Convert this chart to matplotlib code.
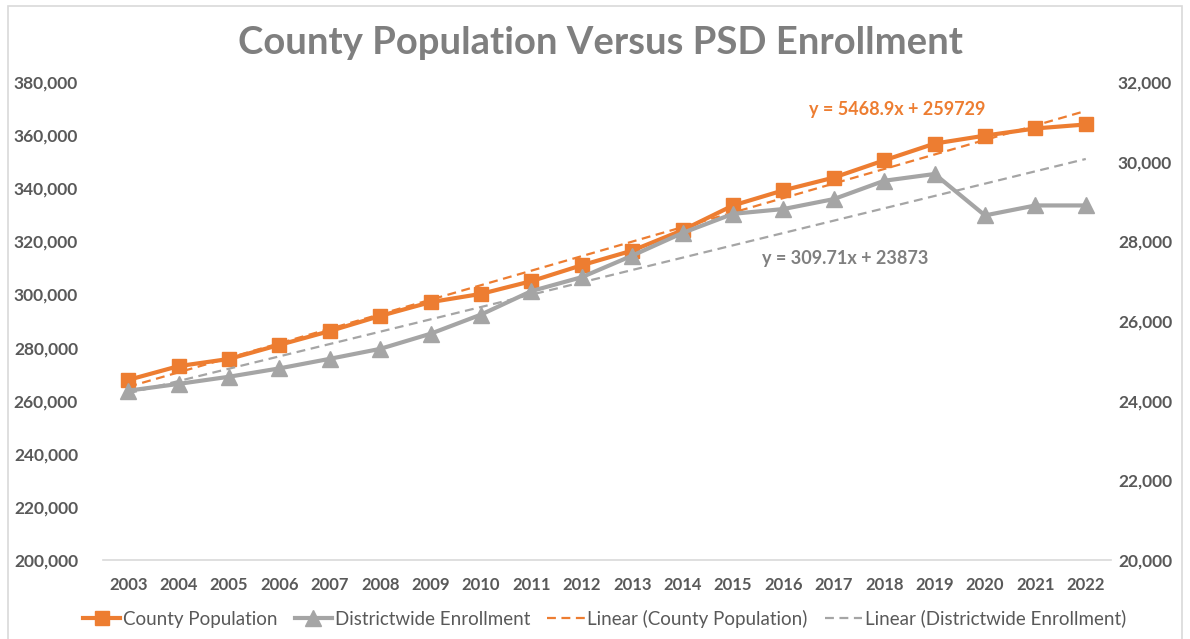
import matplotlib
matplotlib.use("Agg")
import matplotlib.pyplot as plt
from matplotlib.ticker import FuncFormatter, MultipleLocator
from matplotlib.lines import Line2D
import numpy as np

years = [str(y) for y in range(2003, 2023)]
county_population = [267800, 273000, 275700, 281000, 286200, 291900, 297100, 300200,
                     305000, 311000, 316500, 324200, 333500, 339200, 344000, 350500,
                     356800, 359800, 362500, 364000]
district_enrollment = [24250, 24420, 24600, 24810, 25050, 25300, 25680, 26160,
                       26750, 27100, 27640, 28210, 28690, 28810, 29060, 29520,
                       29690, 28650, 28900, 28900]
pop_slope, pop_intercept = 5468.9, 259729
enr_slope, enr_intercept = 309.71, 23873
pop_label = "y = 5468.9x + 259729"
enr_label = "y = 309.71x + 23873"
title = "County Population Versus PSD Enrollment"

ORANGE = "#ED7D31"
GREY = "#A5A5A5"
TXT = "#595959"

plt.rcParams['font.family'] = ['Lato', 'DejaVu Sans']

fig = plt.figure(figsize=(11.9, 6.39), dpi=100)
ax = fig.add_axes([0.0866, 0.1237, 0.847, 0.748])
ax2 = ax.twinx()

x = np.arange(len(years))
xn = x + 1
pop_trend = pop_slope * xn + pop_intercept
enr_trend = enr_slope * xn + enr_intercept

ax.plot(x, pop_trend, color=ORANGE, lw=1.6, ls=(0, (4, 2.5)), zorder=3)
ax2.plot(x, enr_trend, color=GREY, lw=1.6, ls=(0, (4, 2.5)), zorder=3)
l1, = ax.plot(x, county_population, color=ORANGE, lw=3, marker='s', ms=10.5, zorder=4)
l2, = ax2.plot(x, district_enrollment, color=GREY, lw=3, marker='^', ms=11, zorder=4)

ax.set_xlim(-0.5, len(years) - 0.5)
ax.set_ylim(200000, 380000)
ax2.set_ylim(20000, 32000)
ax.yaxis.set_major_locator(MultipleLocator(20000))
ax2.yaxis.set_major_locator(MultipleLocator(2000))
fmt = FuncFormatter(lambda v, p: f"{int(v):,}")
ax.yaxis.set_major_formatter(fmt)
ax2.yaxis.set_major_formatter(fmt)
ax.set_xticks(x)
ax.set_xticklabels(years)

for a in (ax, ax2):
    for s in a.spines.values():
        s.set_visible(False)
    a.tick_params(length=0, colors=TXT)
ax.tick_params(axis='x', labelsize=12, pad=12)
ax.tick_params(axis='y', labelsize=12.5, pad=18)
ax2.tick_params(axis='y', labelsize=12.5, pad=5)
for a in (ax, ax2):
    for lab in a.get_yticklabels() + a.get_xticklabels():
        lab.set_fontweight('bold')
ax.spines['bottom'].set_visible(True)
ax.spines['bottom'].set_color('#D9D9D9')
ax.spines['bottom'].set_linewidth(1.2)
ax.patch.set_visible(False)

ax.text(15.26, 369500, pop_label, color=ORANGE, fontsize=13, fontweight='bold', ha='center', va='center')
ax2.text(14.23, 27580, enr_label, color="#7F7F7F", fontsize=13, fontweight='bold', ha='center', va='center')

fig.text(0.505, 0.933, title, ha='center', va='center', fontsize=27.5, fontweight='bold', color="#7F7F7F")

h3 = Line2D([], [], color=ORANGE, lw=1.6, ls=(0, (4, 2.5)))
h4 = Line2D([], [], color=GREY, lw=1.6, ls=(0, (4, 2.5)))
leg = fig.legend([l1, l2, h3, h4],
                 ["County Population", "Districtwide Enrollment",
                  "Linear (County Population)", "Linear (Districtwide Enrollment)"],
                 loc='center', bbox_to_anchor=(0.508, 0.032), ncol=4, frameon=False,
                 fontsize=13.5, handlelength=2.0, handletextpad=0.15, columnspacing=0.9)
for t in leg.get_texts():
    t.set_color(TXT)

fig.patches.append(plt.Rectangle((0.007, -0.05), 0.986, 1.04, transform=fig.transFigure,
                                 fill=False, edgecolor='#D9D9D9', lw=1.2))

fig.savefig("out.png", dpi=100)
